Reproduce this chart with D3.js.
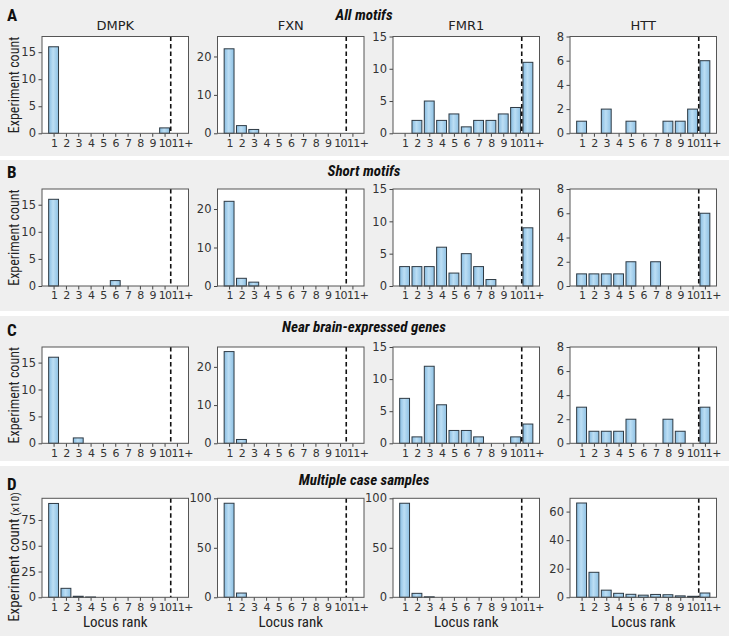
<!DOCTYPE html>
<html><head><meta charset="utf-8">
<script src="https://cdn.jsdelivr.net/npm/d3@7"></script>
<style>
body{margin:0;background:#fff;}
.cond{font-family:"Roboto Condensed","Liberation Sans Narrow","DejaVu Sans Condensed",sans-serif;font-stretch:condensed;}
.tick text{font-family:"DejaVu Sans",sans-serif;}
</style>
</head><body>
<svg id="chart" width="729" height="636"></svg>
<script>
// ---- data ----
const genes = ["DMPK", "FXN", "FMR1", "HTT"];
const ranks = ["1","2","3","4","5","6","7","8","9","10","11+"];
const rowLetters = ["A","B","C","D"];
const rowTitles = ["All motifs","Short motifs","Near brain-expressed genes","Multiple case samples"];

const allMotifs = [
  [16,0,0,0,0,0,0,0,0,1,0],
  [22,2,1,0,0,0,0,0,0,0,0],
  [0,2,5,2,3,1,2,2,3,4,11],
  [1,0,2,0,1,0,0,1,1,2,6]
];
const shortMotifs = [
  [16,0,0,0,0,1,0,0,0,0,0],
  [22,2,1,0,0,0,0,0,0,0,0],
  [3,3,3,6,2,5,3,1,0,0,9],
  [1,1,1,1,2,0,2,0,0,0,6]
];
const brainGenes = [
  [16,0,1,0,0,0,0,0,0,0,0],
  [24,1,0,0,0,0,0,0,0,0,0],
  [7,1,12,6,2,2,1,0,0,1,3],
  [3,1,1,1,2,0,0,2,1,0,3]
];
const multiCase = [ // experiment count (x10)
  [91,8.7,1,0.3,0,0,0,0,0,0,0],
  [95,4.3,0,0,0,0,0,0,0,0,0],
  [95,4,0.5,0,0,0,0,0,0,0,0],
  [66,17.5,5,2.8,2.1,1.5,2,1.8,1,0.7,3]
];
const rowsData = [allMotifs, shortMotifs, brainGenes, multiCase];

// y-axis limits per gene (rows A-C share), and row D
const yMaxShared = [17.9, 25.2, 15, 8];
const yMaxMulti = [96, 100, 100, 69.3];
const yTicksShared = [[0,5,10,15],[0,10,20],[0,5,10,15],[0,2,4,6,8]];
const yTicksMulti = [[0,25,50,75],[0,50,100],[0,50,100],[0,20,40,60]];
const cutoff = 10.5; // dashed line between rank 10 and 11+

// ---- layout ----
const svg = d3.select("#chart");
const W = 729;
const rowBands = [[0,156],[160,311],[316,461],[466,636]];
const axTop = [36.5,189,347,498.3];
const axBot = [133.3,286,443.3,597.3];
const panelX = [42,217.5,393,570];
const panelW = 146.5;

const defs = svg.append("defs");
const grad = defs.append("linearGradient").attr("id","barGrad").attr("x1","0").attr("x2","1").attr("y1","0").attr("y2","0");
grad.append("stop").attr("offset","0%").attr("stop-color","#88bde2");
grad.append("stop").attr("offset","45%").attr("stop-color","#bcdef4");
grad.append("stop").attr("offset","100%").attr("stop-color","#8ec1e4");

rowBands.forEach((b,i)=>{
  svg.append("rect").attr("x",0).attr("y",b[0]).attr("width",W).attr("height",b[1]-b[0]).attr("fill","#efefef");
});

const letterY = [21,178,336,490];
const titleY = [20,176,332,485];

rowsData.forEach((rowData, r)=>{
  svg.append("text").attr("class","cond").attr("x",7).attr("y",letterY[r])
    .attr("font-size",17).attr("font-weight","bold").attr("fill","#111").text(rowLetters[r]);
  svg.append("text").attr("class","cond").attr("x",364).attr("y",titleY[r])
    .attr("text-anchor","middle").attr("font-size",15).attr("font-weight","bold").attr("font-style","italic")
    .attr("fill","#111").text(rowTitles[r]);

  rowData.forEach((vals, g)=>{
    const x0 = panelX[g], y0 = axTop[r], y1 = axBot[r];
    const x = d3.scaleLinear().domain([0.06, 11.94]).range([x0, x0+panelW]);
    const ymax = r<3 ? yMaxShared[g] : yMaxMulti[g];
    const yt = r<3 ? yTicksShared[g] : yTicksMulti[g];
    const y = d3.scaleLinear().domain([0, ymax]).range([y1, y0]);
    const gp = svg.append("g");
    gp.append("rect").attr("x",x0).attr("y",y0).attr("width",panelW).attr("height",y1-y0).attr("fill","#fff");

    const bw = x(0.8)-x(0);
    gp.selectAll("rect.bar").data(vals.map((v,i)=>({v,i}))).join("rect")
      .attr("class","bar")
      .attr("x",d=>x(d.i+1-0.4)).attr("width",bw)
      .attr("y",d=>y(d.v)).attr("height",d=>y(0)-y(d.v))
      .attr("fill","url(#barGrad)").attr("stroke","#2e3a44").attr("stroke-width",d=>d.v>0?1:0);

    gp.append("line").attr("x1",x(cutoff)).attr("x2",x(cutoff)).attr("y1",y0).attr("y2",y1)
      .attr("stroke","#111").attr("stroke-width",1.6).attr("stroke-dasharray","4.5,3");

    const xa = gp.append("g").attr("transform",`translate(0,${y1})`)
      .call(d3.axisBottom(x).tickValues(d3.range(1,12)).tickFormat((d,i)=>ranks[i]).tickSize(3.5).tickPadding(2));
    const ya = gp.append("g").attr("transform",`translate(${x0},0)`)
      .call(d3.axisLeft(y).tickValues(yt).tickFormat(d3.format("d")).tickSize(3.5).tickPadding(2.5));
    [xa,ya].forEach(a=>{
      a.select(".domain").remove();
      a.selectAll(".tick line").attr("stroke","#444");
      a.selectAll(".tick text").attr("fill","#333");
    });
    ya.selectAll(".tick text").attr("font-size",11.5);
    xa.selectAll(".tick text").attr("font-size",11).attr("letter-spacing",-0.6);
    // "11+" : centre the "11" on its tick
    xa.selectAll(".tick text").filter((d)=>d===11).attr("text-anchor","start").attr("dx",-6);

    gp.append("rect").attr("x",x0).attr("y",y0).attr("width",panelW).attr("height",y1-y0)
      .attr("fill","none").attr("stroke","#555").attr("stroke-width",1);

    if(r===0){
      svg.append("text").attr("x",x0+panelW/2).attr("y",30).attr("text-anchor","middle")
        .attr("font-family","DejaVu Sans, sans-serif").attr("font-size",13).attr("fill","#222").text(genes[g]);
    }
    if(r===3){
      svg.append("text").attr("class","cond").attr("x",x0+panelW/2).attr("y",627).attr("text-anchor","middle")
        .attr("font-size",15).attr("fill","#222").text("Locus rank");
    }
    if(g===0){
      const cy = r===3 ? 557 : (y0+y1)/2;
      const t = svg.append("text").attr("class","cond").attr("transform",`translate(19,${cy}) rotate(-90)`)
        .attr("text-anchor","middle").attr("font-size",r===3?15:14).attr("fill","#222");
      t.append("tspan").text("Experiment count");
      if(r===3) t.append("tspan").attr("font-size",11.5).text(" (x10)");
    }
  });
});
</script>
</body></html>
